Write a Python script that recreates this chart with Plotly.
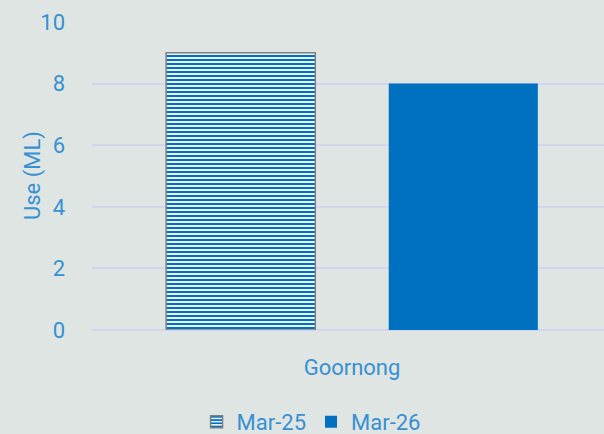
import plotly.graph_objects as go

categories = ["Goornong"]
series_names = ["Mar-25", "Mar-26"]
values_mar25 = [9]
values_mar26 = [8]
y_ticks = [0, 2, 4, 6, 8, 10]
y_title = "Use (ML)"

TXT = "#3690D2"
BLUE = "#0070C0"
FONT = "Roboto"

fig = go.Figure()
fig.add_trace(go.Bar(
    x=categories, y=values_mar25, name=series_names[0],
    marker=dict(color="white", line=dict(color="#7F7F7F", width=1.5),
                pattern=dict(shape="-", fgcolor=BLUE, bgcolor="white", size=4, solidity=0.55, fillmode="replace")),
))
fig.add_trace(go.Bar(
    x=categories, y=values_mar26, name=series_names[1],
    marker=dict(color=BLUE, line=dict(width=0)),
))

fig.add_annotation(text=y_title, xref="paper", yref="paper", x=(33 - 92) / 512, y=0.5,
                   textangle=-90, showarrow=False, xanchor="center", yanchor="middle",
                   font=dict(family=FONT, size=22, color=TXT))

fig.update_layout(
    width=604, height=434,
    margin=dict(l=92, r=0, t=22, b=104, autoexpand=False),
    paper_bgcolor="#DFE5E3", plot_bgcolor="#DFE5E3",
    barmode="group", bargap=0.144, bargroupgap=0.33,
    font=dict(family=FONT, size=22, color=TXT),
    showlegend=True,
    legend=dict(orientation="h", xref="container", yref="container", x=0.515, xanchor="center",
                y=0.028, yanchor="middle",
                font=dict(family=FONT, size=22, color=TXT), itemwidth=30, traceorder="normal"),
    xaxis=dict(range=[-0.5, 0.4846], showgrid=False, showline=False, ticks="",
               tickfont=dict(family=FONT, size=22, color=TXT), ticklabelstandoff=22),
    yaxis=dict(range=[0, 10], tickvals=y_ticks, showgrid=True, gridcolor="#D4D4F0", gridwidth=2,
               zeroline=True, zerolinecolor="#D4D4F0", zerolinewidth=2, showline=False,
               tickfont=dict(family=FONT, size=22, color=TXT), ticklabelstandoff=26),
)

fig.write_html("out.html", config={"displayModeBar": False},
               post_script="document.body.style.margin='0';")
